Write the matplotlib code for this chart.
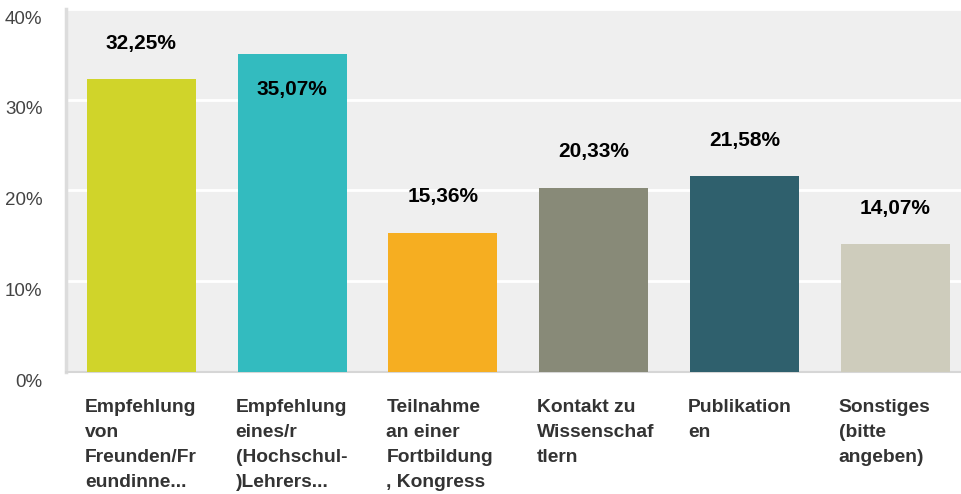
import matplotlib
matplotlib.use("Agg")
import matplotlib.pyplot as plt
import matplotlib.transforms as mtransforms

plt.rcParams['font.family'] = ['Liberation Sans', 'DejaVu Sans']

categories = [
    "Empfehlung\nvon\nFreunden/Fr\neundinne...",
    "Empfehlung\neines/r\n(Hochschul-\n)Lehrers...",
    "Teilnahme\nan einer\nFortbildung\n, Kongress",
    "Kontakt zu\nWissenschaf\ntlern",
    "Publikation\nen",
    "Sonstiges\n(bitte\nangeben)",
]
values = [32.25, 35.07, 15.36, 20.33, 21.58, 14.07]
value_labels = ["32,25%", "35,07%", "15,36%", "20,33%", "21,58%", "14,07%"]
colors = ["#D0D42A", "#33BBBF", "#F6AE21", "#888A78", "#2F606D", "#CECCBC"]
yticks = [0, 10, 20, 30, 40]

W, H = 961, 494
fig = plt.figure(figsize=(W / 100, H / 100), dpi=100)
left, right, top, bottom = 66, 970.5, 9, 372
ax = fig.add_axes([left / W, (H - bottom) / H, (right - left) / W, (bottom - top) / H])
ax.set_facecolor("#EFEFEF")

bar_w = 0.724
x = list(range(len(values)))
ax.bar(x, values, width=bar_w, color=colors, zorder=3)

ax.set_xlim(-0.5, 5.5)
ax.set_ylim(0, 40)
ax.set_yticks(yticks)
ax.set_yticklabels([f"{t}%" for t in yticks], fontsize=13.5, color="#444444")
ax.tick_params(axis="y", length=0, pad=17)
ax.set_xticks([])
ax.yaxis.grid(True, color="white", linewidth=2, zorder=1)
ax.set_axisbelow(True)

# nudge y labels slightly below their gridline
offset = mtransforms.ScaledTranslation(0, -8 / 100, fig.dpi_scale_trans)
for lab in ax.get_yticklabels():
    lab.set_transform(lab.get_transform() + offset)

for s in ["top", "right"]:
    ax.spines[s].set_visible(False)
ax.spines["left"].set_color("#DCDCDC")
ax.spines["left"].set_linewidth(2.5)
ax.spines["bottom"].set_color("#D6D6D6")
ax.spines["bottom"].set_linewidth(1.5)

for i, (v, lab) in enumerate(zip(values, value_labels)):
    dy = 36 if i != 1 else -36
    ax.annotate(lab, (i, v), xytext=(0, dy), textcoords="offset pixels",
                ha="center", va="center", fontsize=15, fontweight="bold",
                color="black", zorder=4)

for i, cat in enumerate(categories):
    ax.annotate(cat, (i - bar_w / 2, 0), xycoords=("data", "axes fraction"),
                xytext=(-2, -27), textcoords="offset pixels",
                ha="left", va="top", fontsize=13.9, fontweight="bold",
                color="#333333", linespacing=1.62, annotation_clip=False)

fig.savefig("out.png", dpi=100)
